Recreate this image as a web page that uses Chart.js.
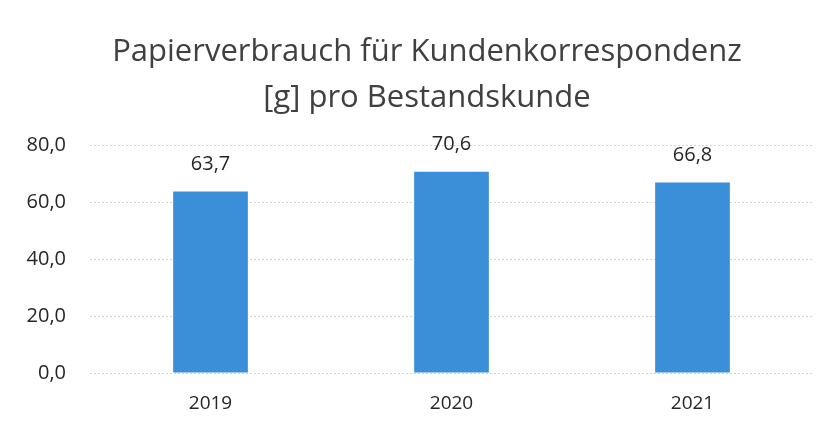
<!DOCTYPE html>
<html lang="de">
<head>
<meta charset="UTF-8">
<title>Papierverbrauch</title>
<script src="https://cdn.jsdelivr.net/npm/chart.js"></script>
<style>
    body { margin: 0; background: #fff; }
    .wrap { width: 832px; height: 425px; }
</style>
</head>
<body>
<div class="wrap"><canvas id="chart"></canvas></div>
<script>
const years = ['2019', '2020', '2021'];
const grams = [63.7, 70.6, 66.8];
const yTicks = [0, 20, 40, 60, 80];
const titleLines = ['Papierverbrauch für Kundenkorrespondenz', '[g] pro Bestandskunde'];

const fmt = v => v.toFixed(1).replace('.', ',');

// value labels above the bars + title (sits a bit right of the canvas centre)
const extras = {
    id: 'extras',
    afterDatasetsDraw(chart) {
        const ctx = chart.ctx;
        const meta = chart.getDatasetMeta(0);
        ctx.save();
        ctx.font = '20px "Open Sans"';
        ctx.fillStyle = '#262626';
        ctx.textAlign = 'center';
        ctx.textBaseline = 'middle';
        meta.data.forEach((bar, i) => {
            ctx.fillText(fmt(grams[i]), bar.x, bar.y - 27);
        });

        ctx.font = '31px "Open Sans"';
        ctx.fillStyle = '#404040';
        titleLines.forEach((line, i) => {
            ctx.fillText(line, 427, 52 + i * 46);
        });
        ctx.restore();
    }
};

new Chart(document.getElementById('chart'), {
    type: 'bar',
    data: {
        labels: years,
        datasets: [{
            data: grams,
            backgroundColor: '#3b8fd8',
            barPercentage: 1,
            categoryPercentage: 0.31
        }]
    },
    options: {
        responsive: true,
        maintainAspectRatio: false,
        animation: false,
        layout: { padding: { left: 0, right: 19, top: 145, bottom: 0 } },
        plugins: {
            legend: { display: false },
            tooltip: { enabled: false },
            title: { display: false }
        },
        scales: {
            x: {
                grid: { display: false, drawTicks: false },
                border: { display: false },
                ticks: {
                    color: '#262626',
                    font: { family: '"Open Sans"', size: 19 },
                    padding: 19
                },
                afterFit: s => { s.height = 52; }
            },
            y: {
                min: 0,
                max: 80,
                afterBuildTicks: s => { s.ticks = yTicks.map(v => ({ value: v })); },
                grid: { color: '#d4d4d4', drawTicks: false },
                border: { display: false, dash: [2, 2] },
                ticks: {
                    color: '#262626',
                    font: { family: '"Open Sans"', size: 20 },
                    padding: 24,
                    callback: v => fmt(v)
                },
                afterFit: s => { s.width = 90; }
            }
        }
    },
    plugins: [extras]
});
</script>
</body>
</html>
